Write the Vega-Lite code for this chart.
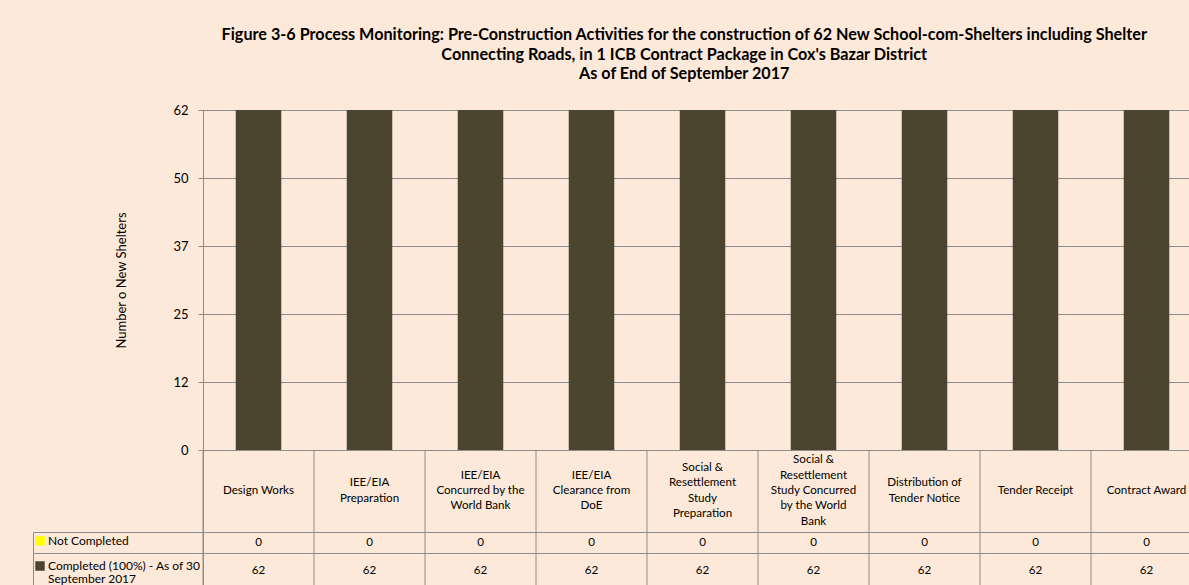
{
  "$schema": "https://vega.github.io/schema/vega-lite/v6.json",
  "background": "#FDE9D9",
  "padding": {"left": 32, "top": 27, "right": 0, "bottom": 0},
  "bounds": "flush",
  "spacing": 0,
  "title": {
    "text": [
      "Figure 3-6  Process Monitoring: Pre-Construction Activities for the construction of 62 New School-com-Shelters including Shelter",
      "Connecting Roads, in 1 ICB Contract Package in Cox's Bazar District",
      "As of End of September 2017"
    ],
    "anchor": "middle",
    "font": "Lato",
    "fontSize": 16.2,
    "fontWeight": "bold",
    "lineHeight": 19.5,
    "color": "#000000",
    "offset": 21,
    "dx": 67
  },
  "datasets": {
    "rows": [
      {"activity": "Design Works", "series": "Not Completed", "count": 0},
      {"activity": "Design Works", "series": "Completed (100%) - As of 30 September 2017", "count": 62},
      {"activity": "IEE/EIA\nPreparation", "series": "Not Completed", "count": 0},
      {"activity": "IEE/EIA\nPreparation", "series": "Completed (100%) - As of 30 September 2017", "count": 62},
      {"activity": "IEE/EIA\nConcurred by the\nWorld Bank", "series": "Not Completed", "count": 0},
      {"activity": "IEE/EIA\nConcurred by the\nWorld Bank", "series": "Completed (100%) - As of 30 September 2017", "count": 62},
      {"activity": "IEE/EIA\nClearance from\nDoE", "series": "Not Completed", "count": 0},
      {"activity": "IEE/EIA\nClearance from\nDoE", "series": "Completed (100%) - As of 30 September 2017", "count": 62},
      {"activity": "Social &\nResettlement\nStudy\nPreparation", "series": "Not Completed", "count": 0},
      {"activity": "Social &\nResettlement\nStudy\nPreparation", "series": "Completed (100%) - As of 30 September 2017", "count": 62},
      {"activity": "Social &\nResettlement\nStudy Concurred\nby the World\nBank", "series": "Not Completed", "count": 0},
      {"activity": "Social &\nResettlement\nStudy Concurred\nby the World\nBank", "series": "Completed (100%) - As of 30 September 2017", "count": 62},
      {"activity": "Distribution of\nTender Notice", "series": "Not Completed", "count": 0},
      {"activity": "Distribution of\nTender Notice", "series": "Completed (100%) - As of 30 September 2017", "count": 62},
      {"activity": "Tender Receipt", "series": "Not Completed", "count": 0},
      {"activity": "Tender Receipt", "series": "Completed (100%) - As of 30 September 2017", "count": 62},
      {"activity": "Contract Award", "series": "Not Completed", "count": 0},
      {"activity": "Contract Award", "series": "Completed (100%) - As of 30 September 2017", "count": 62}
    ]
  },
  "vconcat": [
    {
      "width": 999,
      "height": 340,
      "data": {"name": "rows"},
      "mark": {"type": "bar", "width": {"band": 0.41}},
      "encoding": {
        "x": {"field": "activity", "type": "nominal", "sort": null, "scale": {"paddingInner": 0, "paddingOuter": 0}, "axis": null},
        "y": {
          "field": "count", "type": "quantitative", "stack": "zero",
          "scale": {"domain": [0, 62], "nice": false},
          "axis": {
            "values": [0, 12.4, 24.8, 37.2, 49.6, 62],
            "format": ".0f",
            "title": "Number o New Shelters",
            "titleFont": "Lato", "titleFontSize": 13, "titleFontWeight": "normal", "titleColor": "#000000",
            "titlePadding": 44,
            "labelFont": "Lato", "labelFontSize": 13, "labelColor": "#000000", "labelPadding": 10,
            "grid": true, "gridColor": "#8c8c8c",
            "domainColor": "#8c8c8c", "tickColor": "#8c8c8c", "tickSize": 5
          }
        },
        "color": {
          "field": "series", "type": "nominal",
          "scale": {"domain": ["Not Completed", "Completed (100%) - As of 30 September 2017"], "range": ["#FFFF00", "#4B452F"]},
          "legend": {
            "orient": "none", "legendX": -169, "legendY": 425,
            "title": null, "symbolType": "square", "symbolSize": 90, "symbolStrokeWidth": 0,
            "labelFont": "Lato", "labelFontSize": 12, "labelColor": "#000000", "labelOffset": 2,
            "labelLimit": 300, "rowPadding": 13, "padding": 0,
            "labelExpr": "datum.label == 'Not Completed' ? datum.label : ['Completed (100%) - As of 30', 'September 2017']"
          }
        }
      }
    },
    {
      "width": 999,
      "height": 82,
      "data": {"name": "rows"},
      "transform": [{"filter": "datum.series == 'Not Completed'"}],
      "layer": [
        {
          "mark": {"type": "rule", "color": "#8c8c8c"},
          "encoding": {"x": {"field": "activity", "type": "nominal", "sort": null, "bandPosition": 0, "scale": {"type": "band", "paddingInner": 0, "paddingOuter": 0}, "axis": null}}
        },
        {
          "mark": {
            "type": "text", "lineBreak": "\n", "font": "Lato", "fontSize": 11.6, "lineHeight": 15.3, "baseline": "middle", "color": "#000000",
            "dy": {"expr": "-(length(split(datum.activity, '\\n')) - 1) * 7.65"}
          },
          "encoding": {
            "x": {"field": "activity", "type": "nominal", "sort": null, "scale": {"type": "band", "paddingInner": 0, "paddingOuter": 0}, "axis": null},
            "text": {"field": "activity"}
          }
        }
      ]
    },
    {
      "width": 999,
      "height": 21,
      "data": {"name": "rows"},
      "transform": [{"filter": "datum.series == 'Not Completed'"}],
      "encoding": {
        "x": {"field": "activity", "type": "nominal", "sort": null, "scale": {"type": "band", "paddingInner": 0, "paddingOuter": 0}, "axis": null},
        "y": {
          "field": "series", "type": "nominal",
          "scale": {"type": "band", "paddingInner": 0, "paddingOuter": 0},
          "axis": {"title": null, "labels": false, "offset": 170, "domainColor": "#8c8c8c", "tickColor": "#8c8c8c", "tickBand": "extent", "tickSize": -170, "grid": false}
        }
      },
      "layer": [
        {"mark": {"type": "rule", "color": "#8c8c8c"}, "encoding": {"x": {"field": "activity", "type": "nominal", "sort": null, "bandPosition": 0}, "y": null}},
        {"mark": {"type": "text", "font": "Lato", "fontSize": 11.6, "baseline": "middle", "color": "#000000"}, "encoding": {"text": {"field": "count", "type": "quantitative"}}}
      ]
    },
    {
      "width": 999,
      "height": 36,
      "data": {"name": "rows"},
      "transform": [{"filter": "datum.series != 'Not Completed'"}],
      "encoding": {
        "x": {"field": "activity", "type": "nominal", "sort": null, "scale": {"type": "band", "paddingInner": 0, "paddingOuter": 0}, "axis": null},
        "y": {
          "field": "series", "type": "nominal",
          "scale": {"type": "band", "paddingInner": 0, "paddingOuter": 0},
          "axis": {"title": null, "labels": false, "offset": 170, "domainColor": "#8c8c8c", "tickColor": "#8c8c8c", "tickBand": "extent", "tickSize": -170, "grid": false}
        }
      },
      "layer": [
        {"mark": {"type": "rule", "color": "#8c8c8c"}, "encoding": {"x": {"field": "activity", "type": "nominal", "sort": null, "bandPosition": 0}, "y": null}},
        {"mark": {"type": "text", "font": "Lato", "fontSize": 11.6, "baseline": "middle", "color": "#000000"}, "encoding": {"text": {"field": "count", "type": "quantitative"}}}
      ]
    }
  ],
  "config": {
    "font": "Lato",
    "view": {"stroke": "#8c8c8c", "fill": "#FDE9D9"},
    "style": {"guide-label": {"lineHeight": 13}}
  }
}
